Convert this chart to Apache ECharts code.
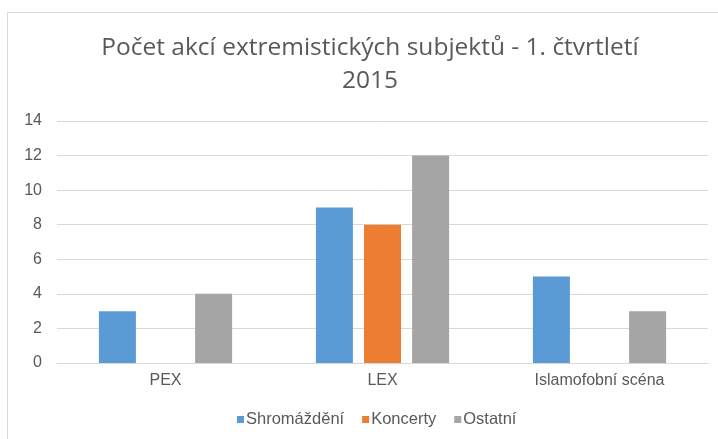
<!DOCTYPE html>
<html><head><meta charset="utf-8">
<script src="https://cdn.jsdelivr.net/npm/echarts@6/dist/echarts.min.js"></script>
<style>html,body{margin:0;padding:0;background:#fff}#c{width:718px;height:439px}</style>
</head><body><div id="c"></div>
<script>
const categories = ['PEX', 'LEX', 'Islamofobní scéna'];
const shromazdeni = [3, 9, 5];
const koncerty = [null, 8, null];
const ostatni = [4, 12, 3];
const seriesNames = ['Shromáždění', 'Koncerty', 'Ostatní'];
const colors = ['#5b9bd5', '#ed7d31', '#a5a5a5'];

const chart = echarts.init(document.getElementById('c'));
const values = [shromazdeni, koncerty, ostatni];
chart.setOption({
  animation: false,
  color: colors,
  graphic: [{
    type: 'rect', shape: {x: 7.5, y: 12.5, width: 720, height: 440},
    style: {fill: 'none', stroke: '#d9d9d9', lineWidth: 1}, silent: true
  }],
  title: {
    text: 'Počet akcí extremistických subjektů - 1. čtvrtletí\n2015',
    left: 365, top: 27, textAlign: 'center',
    textStyle: {fontFamily: 'Open Sans', fontWeight: 'normal', fontSize: 24.5, color: '#595959', lineHeight: 33}
  },
  legend: {
    data: seriesNames, bottom: 6, left: 232,
    itemWidth: 7, itemHeight: 7, itemGap: 18, icon: 'rect',
    textStyle: {fontFamily: 'Liberation Sans', fontSize: 16.5, color: '#595959', padding: [0, 0, 0, -3]}
  },
  grid: {left: 57, right: 10, top: 121, bottom: 76, containLabel: false},
  xAxis: {
    type: 'category', data: categories,
    axisLine: {lineStyle: {color: '#d9d9d9'}}, axisTick: {show: false},
    axisLabel: {fontFamily: 'Liberation Sans', fontSize: 16, color: '#595959', margin: 10}
  },
  yAxis: {
    type: 'value', min: 0, max: 14, interval: 2,
    axisLine: {show: false}, axisTick: {show: false},
    splitLine: {lineStyle: {color: '#d9d9d9'}},
    axisLabel: {fontFamily: 'Liberation Sans', fontSize: 16, color: '#595959', margin: 15}
  },
  series: seriesNames.map((n, i) => ({
    name: n, type: 'bar', data: values[i],
    barWidth: 37, barGap: '30%'
  }))
});
</script></body></html>
